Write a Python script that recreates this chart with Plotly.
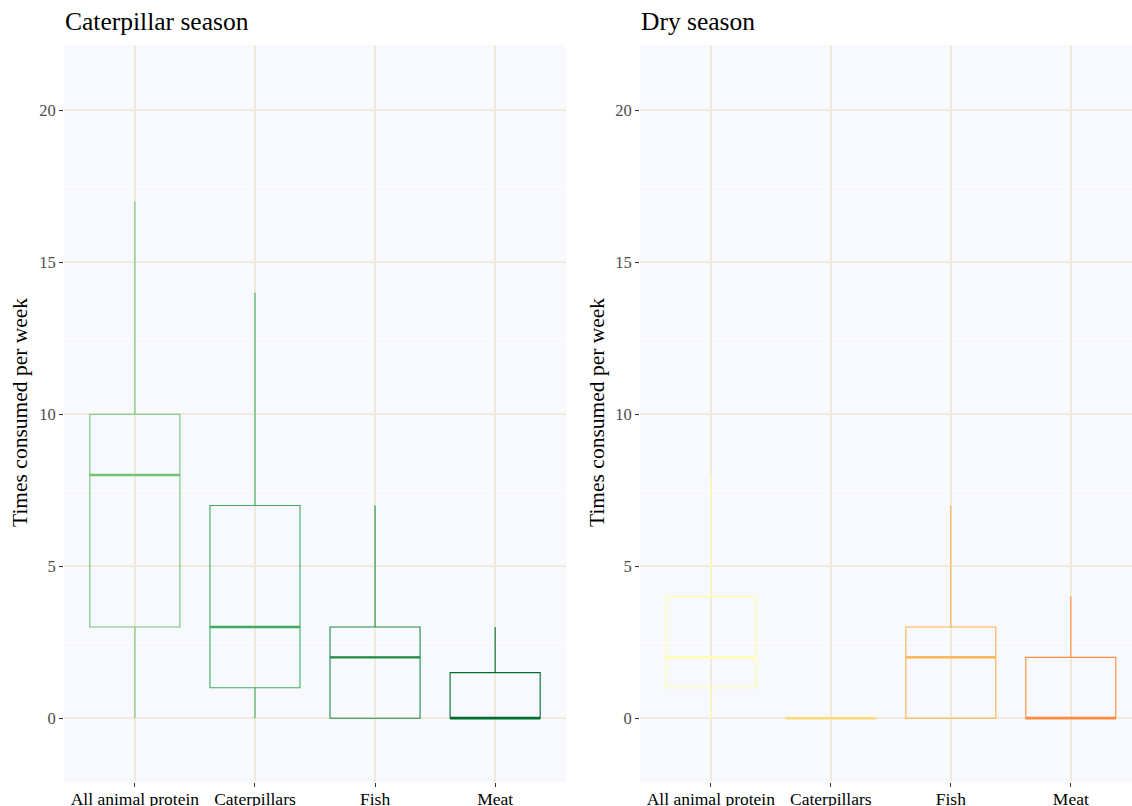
import plotly.graph_objects as go

categories = ["All animal protein", "Caterpillars", "Fish", "Meat"]

# Caterpillar season (five-number summaries)
cat_lower = [0, 0, 0, 0]
cat_q1 = [3, 1, 0, 0]
cat_median = [8, 3, 2, 0]
cat_q3 = [10, 7, 3, 1.5]
cat_upper = [17, 14, 7, 3]
cat_colors = ["#74C476", "#41AB5D", "#238B45", "#006D2C"]

# Dry season
dry_lower = [0, 0, 0, 0]
dry_q1 = [1, 0, 0, 0]
dry_median = [2, 0, 2, 0]
dry_q3 = [4, 0, 3, 2]
dry_upper = [8, 0, 7, 4]
dry_colors = ["#FFFFA8", "#FED976", "#FEB24C", "#FD8D3C"]

y_ticks = [0, 5, 10, 15, 20]
box_width = 0.75

FONT = "Liberation Serif"

fig = go.Figure()

def add_panel(lower, q1, med, q3, upper, colors, xa, ya):
    for i, c in enumerate(categories):
        x = i + 1
        fig.add_trace(go.Box(
            x=[x], lowerfence=[lower[i]], q1=[q1[i]], median=[med[i]],
            q3=[q3[i]], upperfence=[upper[i]], width=box_width,
            line=dict(color=colors[i], width=1.1), fillcolor="rgba(0,0,0,0)",
            whiskerwidth=0, boxpoints=False, xaxis=xa, yaxis=ya,
            showlegend=False, hoverinfo="skip", name=c))
        fig.add_trace(go.Scatter(
            x=[x - box_width / 2, x + box_width / 2], y=[med[i], med[i]],
            mode="lines", line=dict(color=colors[i], width=2.4),
            xaxis=xa, yaxis=ya, showlegend=False, hoverinfo="skip"))

add_panel(cat_lower, cat_q1, cat_median, cat_q3, cat_upper, cat_colors, "x", "y")
add_panel(dry_lower, dry_q1, dry_median, dry_q3, dry_upper, dry_colors, "x2", "y2")

grid = "#F0EADA"
xcommon = dict(tickmode="array", tickvals=[1, 2, 3, 4], ticktext=categories,
               showgrid=True, gridcolor=grid, gridwidth=2, zeroline=False,
               ticks="outside", ticklen=4, tickcolor="#333333", tickwidth=1.2,
               ticklabelstandoff=-3,
               tickfont=dict(family=FONT, size=17.5, color="#000000"),
               showline=False, fixedrange=True, automargin=False)
ycommon = dict(range=[-2.1, 22.15], tickmode="array", tickvals=y_ticks,
               showgrid=True, gridcolor=grid, gridwidth=2, zeroline=False,
               ticks="outside", ticklen=4, tickcolor="#333333", tickwidth=1.2,
               tickfont=dict(family=FONT, size=16.5, color="#4D4D4D"),
               minor=dict(tickvals=[-2.5, 2.5, 7.5, 12.5, 17.5], showgrid=True,
                          gridcolor="#FFFFFF", gridwidth=1, ticks=""),
               showline=False, fixedrange=True, automargin=False)

ybot = 1 - 782 / 806
ytop = 1 - 45 / 806

fig.update_layout(
    width=1132, height=806,
    margin=dict(l=0, r=0, t=0, b=0, autoexpand=False),
    paper_bgcolor="white", plot_bgcolor="#F8F8FF",
    boxmode="overlay",
    xaxis=dict(domain=[64 / 1132, 566 / 1132], range=[0.41, 4.59], anchor="y", **xcommon),
    yaxis=dict(domain=[ybot, ytop], anchor="x", **ycommon),
    xaxis2=dict(domain=[640 / 1132, 1.0], range=[0.41, 4.51], anchor="y2", **xcommon),
    yaxis2=dict(domain=[ybot, ytop], anchor="x2", **ycommon),
    annotations=[
        dict(text="Caterpillar season", x=63 / 1132, y=1 - 5 / 806, xref="paper", yref="paper",
             xanchor="left", yanchor="top", showarrow=False,
             font=dict(family=FONT, size=25.5, color="#000000")),
        dict(text="Dry season", x=639 / 1132, y=1 - 5 / 806, xref="paper", yref="paper",
             xanchor="left", yanchor="top", showarrow=False,
             font=dict(family=FONT, size=25.5, color="#000000")),
        dict(text="Times consumed per week", x=20 / 1132, y=1 - 413 / 806, xref="paper",
             yref="paper", xanchor="center", yanchor="middle", textangle=-90, showarrow=False,
             font=dict(family=FONT, size=21.5, color="#000000")),
        dict(text="Times consumed per week", x=597 / 1132, y=1 - 413 / 806, xref="paper",
             yref="paper", xanchor="center", yanchor="middle", textangle=-90, showarrow=False,
             font=dict(family=FONT, size=21.5, color="#000000")),
    ],
)

fig.write_html("out.html", config={"displayModeBar": False},
               post_script="document.body.style.margin='0px';document.body.style.overflow='hidden';")
